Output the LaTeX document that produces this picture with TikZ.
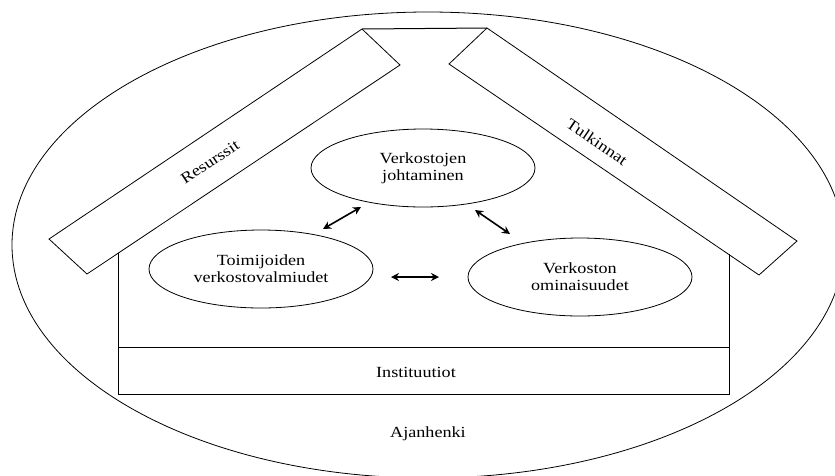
\documentclass[tikz,border=0pt]{standalone}
\usepackage{fontspec}
\setmainfont[FakeStretch=1.17]{Liberation Serif}
\usetikzlibrary{shapes.geometric,arrows.meta}
\begin{document}
\begin{tikzpicture}[x=1pt,y=-1pt,
  every node/.style={font=\fontsize{15.5}{17}\selectfont},
  line/.style={draw=black,line width=0.8pt},
  bubble/.style={ellipse,draw=black,line width=0.8pt,minimum width=224pt,minimum height=78pt,inner sep=0pt,align=center},
  link/.style={line width=1.6pt,{Stealth[length=8pt,width=8pt]}-{Stealth[length=8pt,width=8pt]}},
  label/.style={inner sep=0pt}]
\clip (0,0) rectangle (835,475);
\useasboundingbox (0,0) rectangle (835,475);
% outer context ellipse
\draw[line] (428,245) ellipse [x radius=416, y radius=233];
% roof bars
\coordinate (A) at (362,29);
\coordinate (B) at (400,65);
\coordinate (C) at (87,274);
\coordinate (D) at (49,239);
\coordinate (E) at (487,28);
\coordinate (F) at (449,64);
\coordinate (G) at (759,275);
\coordinate (H) at (797,241);
\draw[line] (A) -- (B) -- (C) -- (D) -- cycle;
\draw[line] (E) -- (F) -- (G) -- (H) -- cycle;
\draw[line,line width=1pt] (A) -- (E);
% house body
\coordinate (WL) at (118,253);
\coordinate (WR) at (729,254);
\coordinate (BL) at (118,394);
\coordinate (BR) at (729,394);
\coordinate (ML) at (118,347);
\coordinate (MR) at (729,347);
\draw[line] (WL) -- (BL) -- (BR) -- (WR);
\draw[line] (ML) -- (MR);
% labels
\node[label,rotate=33.8] (res) at (210,162) {Resurssit};
\node[label,rotate=-34.4] (tul) at (597,142) {Tulkinnat};
\node[label] (inst) at (416,372) {Instituutiot};
\node[label] (ajan) at (428,434) {Ajanhenki};
% bubbles
\node[bubble] (vj) at (423,168) {Verkostojen\\johtaminen};
\node[bubble] (tv) at (261,269) {Toimijoiden\\verkostovalmiudet};
\node[bubble] (vo) at (580,277) {Verkoston\\ominaisuudet};
% arrows
\coordinate (a1) at (323,229);
\coordinate (a2) at (361,207);
\coordinate (b1) at (475,210);
\coordinate (b2) at (510,234);
\coordinate (c1) at (391,277);
\coordinate (c2) at (439,277);
\draw[link] (a1) -- (a2);
\draw[link] (b1) -- (b2);
\draw[link] (c1) -- (c2);
\end{tikzpicture}
\end{document}
